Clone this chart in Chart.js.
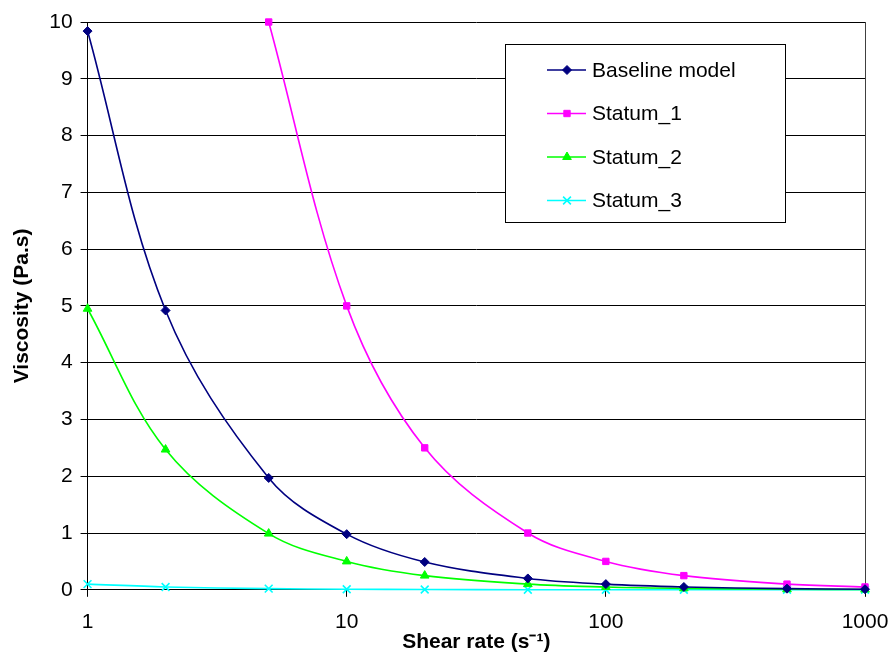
<!DOCTYPE html>
<html>
<head>
<meta charset="utf-8">
<script src="https://cdn.jsdelivr.net/npm/chart.js@4.4.1/dist/chart.umd.min.js"></script>
<style>
  html, body { margin: 0; padding: 0; background: #fff; }
  #wrap { width: 893px; height: 653px; }
</style>
</head>
<body>
<div id="wrap"><canvas id="chart"></canvas></div>
<script>
const shearRates = [1, 2, 5, 10, 20, 50, 100, 200, 500, 1000];
const xTickValues = [1, 10, 100, 1000];
const baseline = [9.84, 4.92, 1.97, 0.98, 0.49, 0.2, 0.1, 0.05, 0.02, 0.01];
const statum1 = [null, null, 10, 5.0, 2.5, 1.0, 0.5, 0.25, 0.1, 0.05];
const statum2 = [4.95, 2.47, 0.99, 0.5, 0.25, 0.1, 0.05, 0.025, 0.01, 0.005];
const statum3 = [0.1, 0.05, 0.02, 0.01, 0.005, 0.002, 0.001, 0.0005, 0.0002, 0.0001];

const FONT = '"Liberation Sans", Arial, sans-serif';

function toPoints(values) {
  return shearRates.map((x, i) => ({ x: x, y: values[i] })).filter(p => p.y !== null);
}

function makeSeries(label, values, color, pointStyle, radius) {
  return {
    label: label,
    data: toPoints(values),
    borderColor: color,
    backgroundColor: color,
    borderWidth: 1.6,
    pointStyle: pointStyle,
    pointRadius: radius,
    pointBorderWidth: pointStyle === 'crossRot' ? 1.6 : 1,
    tension: 0.35,
    clip: false
  };
}

// legend box drawn inside the plot area, like the original
const boxLegend = {
  id: 'boxLegend',
  afterDraw(chart) {
    const ctx = chart.ctx;
    const area = chart.chartArea;
    const left = Math.round(area.right) - 360;
    const top = Math.round(area.top) + 22;
    const w = 280, h = 178;
    ctx.save();
    ctx.fillStyle = '#fff';
    ctx.fillRect(left, top, w, h);
    ctx.strokeStyle = '#000';
    ctx.lineWidth = 1;
    ctx.strokeRect(left + 0.5, top + 0.5, w, h);
    ctx.font = '21px ' + FONT;
    ctx.textBaseline = 'middle';
    chart.data.datasets.forEach((ds, i) => {
      const y = top + 26 + i * 43.5;
      ctx.strokeStyle = ds.borderColor;
      ctx.lineWidth = 1.6;
      ctx.beginPath();
      ctx.moveTo(left + 42, y);
      ctx.lineTo(left + 81, y);
      ctx.stroke();
      ctx.fillStyle = ds.borderColor;
      ctx.strokeStyle = ds.borderColor;
      ctx.lineWidth = ds.pointBorderWidth;
      Chart.helpers.drawPoint(ctx, {
        pointStyle: ds.pointStyle,
        radius: ds.pointRadius,
        borderWidth: ds.pointBorderWidth
      }, left + 62, y);
      ctx.fillStyle = '#000';
      ctx.fillText(ds.label, left + 87, y + 1);
    });
    ctx.restore();
  }
};

const plotBorder = {
  id: 'plotBorder',
  beforeDatasetsDraw(chart) {
    const ctx = chart.ctx;
    const a = chart.chartArea;
    ctx.save();
    ctx.strokeStyle = '#404040';
    ctx.lineWidth = 1;
    ctx.beginPath();
    ctx.moveTo(Math.round(a.right) + 0.5, a.top);
    ctx.lineTo(Math.round(a.right) + 0.5, a.bottom);
    ctx.stroke();
    ctx.restore();
  }
};

new Chart(document.getElementById('chart'), {
  type: 'line',
  data: {
    datasets: [
      makeSeries('Baseline model', baseline, '#000080', 'rectRot', 4.5),
      makeSeries('Statum_1', statum1, '#FF00FF', 'rect', 4.5),
      makeSeries('Statum_2', statum2, '#00FF00', 'triangle', 5),
      makeSeries('Statum_3', statum3, '#00FFFF', 'crossRot', 5.5)
    ]
  },
  options: {
    responsive: true,
    maintainAspectRatio: false,
    animation: false,
    layout: { autoPadding: false, padding: { left: 10, right: 28, top: 22, bottom: 0 } },
    plugins: {
      legend: { display: false },
      tooltip: { enabled: false }
    },
    scales: {
      x: {
        type: 'logarithmic',
        min: 1,
        max: 1000,
        afterBuildTicks(axis) {
          axis.ticks = xTickValues.map(v => ({ value: v }));
        },
        afterFit(axis) {
          // labels may hang over the edge, as in the original
          axis.paddingLeft = 0;
          axis.paddingRight = 0;
        },
        grid: {
          drawOnChartArea: false,
          drawTicks: true,
          tickLength: 7,
          color: '#000'
        },
        border: { color: '#000', width: 1 },
        ticks: {
          color: '#000',
          font: { family: FONT, size: 21 },
          padding: 13,
          maxRotation: 0,
          autoSkip: false,
          callback: v => String(v)
        },
        title: {
          display: true,
          text: 'Shear rate (s\u207B\u00B9)',
          color: '#000',
          font: { family: FONT, size: 21, weight: 'bold', lineHeight: 1.0 },
          padding: { top: -16, bottom: 0 }
        }
      },
      y: {
        min: 0,
        max: 10,
        ticks: {
          stepSize: 1,
          color: '#000',
          font: { family: FONT, size: 21 },
          padding: 8
        },
        grid: {
          color: '#000',
          lineWidth: 1,
          tickLength: 7
        },
        border: { color: '#000', width: 1 },
        title: {
          display: true,
          text: 'Viscosity (Pa.s)',
          color: '#000',
          font: { family: FONT, size: 21, weight: 'bold' },
          padding: { top: 0, bottom: 6 }
        }
      }
    }
  },
  plugins: [plotBorder, boxLegend]
});
</script>
</body>
</html>
